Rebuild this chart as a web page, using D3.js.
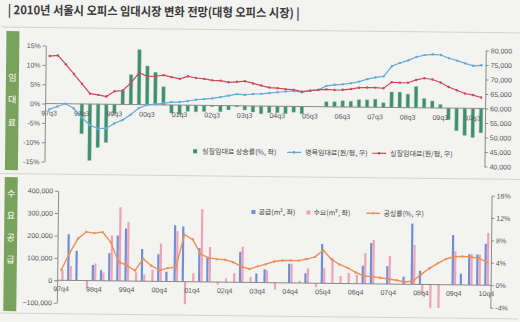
<!DOCTYPE html>
<html><head><meta charset="utf-8">
<script src="https://cdn.jsdelivr.net/npm/d3@7"></script>
<style>
html,body{margin:0;padding:0;background:#f3f3f1;}
svg{display:block;}
</style></head><body>
<svg id="c" width="520" height="322"></svg>
<script>
// ---------- DATA ----------
const titleText = "| 2010년 서울시 오피스 임대시장 변화 전망(대형 오피스 시장) |";

// Top panel: quarters 97q3 .. 10q4
const topCategories = d3.range(54).map(i => {
  const k = i + 2; return String((97 + Math.floor(k / 4)) % 100).padStart(2, "0") + "q" + (k % 4 + 1);
});
const topTickLabels = ["97q3","98q3","99q3","00q3","01q3","02q3","03q3","04q3","05q3","06q3","07q3","08q3","09q3","10q3"];
// 실질임대료 상승률 (%, left)
const realRentGrowth = [null,null,null,null,-7.7,-14.6,-11.2,-9.9,-2.3,3.6,7.7,14.2,10.0,8.4,4.7,-2.1,-2.4,-1.6,-1.7,-1.6,-0.3,-1.6,-1.1,-0.3,-1.1,-1.6,-2.0,-1.7,-1.7,-1.9,-1.5,-1.9,0,0,1.3,1.3,1.6,1.5,1.9,1.9,2.1,1.2,4.0,4.0,3.5,5.5,2.4,1.8,0.9,-3.0,-5.8,-7.0,-7.5,-6.3];
// 명목임대료 (원/평, right)
const nominalRent = [58000,59050,60000,58500,55350,52800,51600,51650,53400,54600,56450,58800,59900,60250,60550,61000,61050,61450,61900,62150,62450,62900,63450,64000,63800,64100,64200,64500,64800,65100,65300,64900,65500,65800,67200,67600,67800,68200,68800,69700,70300,70700,74200,75400,76300,77500,78200,78500,78300,77200,76400,75500,74700,74900];
// 실질임대료 (원/평, right)
const realRent = [76400,76650,73600,70300,66950,63600,63200,62650,64500,64800,67450,71000,69800,69850,70250,69600,69050,69950,69400,69150,68650,68600,68050,68250,68500,67750,67050,66400,66200,65900,65700,65100,65500,65800,66000,65800,65900,66200,66700,66800,66800,66600,68700,68600,68600,69600,70200,69800,68800,67300,66200,65100,64600,63800];
const topLeftTicks = [-15,-10,-5,0,5,10,15];
const topRightTicks = [40000,45000,50000,55000,60000,65000,70000,75000,80000];

// Bottom panel: quarters 97q4 .. 10q4
const botCategories = d3.range(53).map(i => {
  const k = i + 3; return String((97 + Math.floor(k / 4)) % 100).padStart(2, "0") + "q" + (k % 4 + 1);
});
const botTickLabels = ["97q4","98q4","99q4","00q4","01q4","02q4","03q4","04q4","05q4","06q4","07q4","08q4","09q4","10q4"];
// 공급 (m², left)
const supply = [0,206000,133000,0,70000,47000,124000,203000,235000,0,144000,0,121000,44000,252000,247000,0,151000,109000,0,0,0,137000,0,40000,60000,0,0,86000,0,44000,0,176000,0,0,0,0,80000,182000,0,80000,0,33000,271000,61000,0,0,0,222000,50000,137000,137000,185000];
// 수요 (m², left)
const demand = [45000,65000,0,-30000,77000,37000,203000,329000,265000,40000,30000,52000,169000,0,225000,-100000,38000,325000,156000,-12000,18000,40000,159000,25000,0,55000,-30000,0,86000,10000,66000,-18000,70000,115000,33000,48000,40000,137000,196000,0,125000,0,0,176000,-40000,-104000,-104000,0,150000,0,137000,137000,233000];
// 공실률 (%, right)
const vacancy = [1.9,4.9,7.5,8.7,8.5,8.7,6.9,3.4,2.8,1.9,4.0,2.8,2.0,2.4,2.6,8.4,7.6,5.0,4.3,4.1,4.0,3.6,2.8,2.4,2.9,3.3,3.8,4.0,4.0,4.0,4.3,4.7,5.9,4.3,3.4,2.8,2.0,1.4,1.3,1.1,0.9,0.7,0.4,0.6,1.8,2.9,3.8,4.6,5.0,5.1,5.0,4.8,4.1];
const botLeftTicks = [-100000,0,100000,200000,300000,400000];
const botRightTicks = [-4,0,4,8,12,16];

// ---------- DRAW ----------
const KR = "'Noto Sans CJK KR','Noto Sans',sans-serif";
const NUM = "'Liberation Sans Narrow','Liberation Sans',Arial,sans-serif";
const svg = d3.select("#c");
svg.append("rect").attr("width",520).attr("height",322).attr("fill","#f3f3f1");
const g = svg.append("g").attr("transform","rotate(0.65 260 161)");

g.append("text").attr("x",6).attr("y",17).attr("textLength",292).attr("lengthAdjust","spacingAndGlyphs")
  .attr("font-family",KR).attr("font-weight","bold").attr("font-size",12).attr("fill","#3a3a3a").text(titleText);
[30,176.5,316].forEach(y => g.append("line").attr("x1",0).attr("x2",520).attr("y1",y).attr("y2",y)
  .attr("stroke","#d2d2d0").attr("stroke-width",1));

function sideBar(y0,h,chars,ys){
  g.append("rect").attr("x",5).attr("y",y0).attr("width",13).attr("height",h).attr("fill","#79a35c");
  chars.forEach((ch,i)=> g.append("text").attr("x",11.5).attr("y",ys[i]).attr("text-anchor","middle")
    .attr("dominant-baseline","central").attr("font-family",KR).attr("font-size",9).attr("fill","#ffffff").text(ch));
}
sideBar(34,139,["임","대","료"],[80,102,125]);
sideBar(180,134,["수","요","공","급"],[196,218,240,262]);

function styleAxis(sel){
  sel.select(".domain").attr("stroke","#8a8a8a");
  sel.selectAll(".tick line").attr("stroke","#8a8a8a");
  sel.selectAll(".tick text").attr("fill","#555").attr("font-family",NUM).attr("font-size",7);
}

// ----- top panel -----
const xT = d3.scaleBand().domain(topCategories).range([44.5,484.5]);
const yTL = d3.scaleLinear().domain([-15,15]).range([164,48]);
const yTR = d3.scaleLinear().domain([40000,80000]).range([164,48]);
const bwT = xT.bandwidth();

g.append("g").selectAll("rect").data(topCategories.map((c,i)=>({c,v:realRentGrowth[i]})).filter(d=>d.v))
  .join("rect").attr("x",d=>xT(d.c)+bwT*0.3).attr("width",bwT*0.42)
  .attr("y",d=>Math.min(yTL(d.v),yTL(0))).attr("height",d=>Math.abs(yTL(d.v)-yTL(0)))
  .attr("fill","#3f8f6e").attr("stroke","#8dbfa6").attr("stroke-width",0.4);

g.append("line").attr("x1",44.5).attr("x2",484.5).attr("y1",yTL(0)).attr("y2",yTL(0)).attr("stroke","#8a8a8a");
const xTA = g.append("g").attr("transform",`translate(0,${yTL(0)})`)
  .call(d3.axisBottom(xT).tickValues(topTickLabels).tickSize(0).tickPadding(7));
xTA.select(".domain").remove(); styleAxis(xTA);

const lineT = (arr) => d3.line().x((d,i)=>xT(topCategories[i])+bwT/2).y(d=>yTR(d))(arr);
[[nominalRent,"#62acd8"],[realRent,"#cc4a57"]].forEach(([arr,col])=>{
  g.append("path").attr("d",lineT(arr)).attr("fill","none").attr("stroke",col).attr("stroke-width",1.2);
  g.append("g").selectAll("circle").data(arr).join("circle")
    .attr("cx",(d,i)=>xT(topCategories[i])+bwT/2).attr("cy",d=>yTR(d)).attr("r",1.2).attr("fill",col);
});

const yTLA = g.append("g").attr("transform","translate(44.5,0)")
  .call(d3.axisLeft(yTL).tickValues(topLeftTicks).tickFormat(d=>d+"%").tickSize(3).tickSizeOuter(0).tickPadding(2));
styleAxis(yTLA);
const yTRA = g.append("g").attr("transform","translate(484.5,0)")
  .call(d3.axisRight(yTR).tickValues(topRightTicks).tickFormat(d3.format(",")).tickSize(3).tickSizeOuter(0).tickPadding(2));
styleAxis(yTRA);

// top legend
const lgT = g.append("g").attr("font-family",KR).attr("font-size",7).attr("fill","#444");
lgT.append("rect").attr("x",193).attr("y",150).attr("width",4).attr("height",4).attr("fill","#3f8f6e");
lgT.append("text").attr("x",202).attr("y",154.5).text("실질임대료 상승률(%, 좌)");
[[287,305,"#62acd8","명목임대료(원/평, 우)"],[372,390,"#cc4a57","실질임대료(원/평, 우)"]].forEach(([x,tx,col,t])=>{
  lgT.append("line").attr("x1",x).attr("x2",x+14).attr("y1",152).attr("y2",152).attr("stroke",col).attr("stroke-width",1.2);
  lgT.append("circle").attr("cx",x+7).attr("cy",152).attr("r",1.3).attr("fill",col);
  lgT.append("text").attr("x",tx).attr("y",154.5).text(t);
});

// ----- bottom panel -----
const xB = d3.scaleBand().domain(botCategories).range([58.5,492]);
const yBL = d3.scaleLinear().domain([-100000,400000]).range([305,193]);
const yBR = d3.scaleLinear().domain([-4,16]).range([305,193]);
const bwB = xB.bandwidth();
const cB = (c) => xB(c) + bwB/2;

g.append("g").selectAll("rect").data(botCategories.map((c,i)=>({c,v:supply[i]})).filter(d=>d.v))
  .join("rect").attr("x",d=>cB(d.c)-2.3).attr("width",2.2)
  .attr("y",d=>Math.min(yBL(d.v),yBL(0))).attr("height",d=>Math.abs(yBL(d.v)-yBL(0))).attr("fill","#6f8fd6");
g.append("g").selectAll("rect").data(botCategories.map((c,i)=>({c,v:demand[i]})).filter(d=>d.v))
  .join("rect").attr("x",d=>cB(d.c)+0.1).attr("width",2.2)
  .attr("y",d=>Math.min(yBL(d.v),yBL(0))).attr("height",d=>Math.abs(yBL(d.v)-yBL(0))).attr("fill","#eea3b6");

g.append("line").attr("x1",58.5).attr("x2",492).attr("y1",yBL(0)).attr("y2",yBL(0)).attr("stroke","#8a8a8a");
const xBA = g.append("g").attr("transform",`translate(0,${yBL(0)})`)
  .call(d3.axisBottom(xB).tickValues(botTickLabels).tickSize(0).tickPadding(6));
xBA.select(".domain").remove(); styleAxis(xBA);

g.append("path").attr("d",d3.line().x((d,i)=>cB(botCategories[i])).y(d=>yBR(d))(vacancy))
  .attr("fill","none").attr("stroke","#ee9055").attr("stroke-width",1.4);
g.append("g").selectAll("circle").data(vacancy).join("circle")
  .attr("cx",(d,i)=>cB(botCategories[i])).attr("cy",d=>yBR(d)).attr("r",1.2).attr("fill","#ee9055");

const yBLA = g.append("g").attr("transform","translate(58.5,0)")
  .call(d3.axisLeft(yBL).tickValues(botLeftTicks).tickFormat(d3.format(",")).tickSize(3).tickSizeOuter(0).tickPadding(2));
styleAxis(yBLA);
const yBRA = g.append("g").attr("transform","translate(492,0)")
  .call(d3.axisRight(yBR).tickValues(botRightTicks).tickFormat(d=>d+"%").tickSize(3).tickSizeOuter(0).tickPadding(2));
styleAxis(yBRA);

// bottom legend
const lgB = g.append("g").attr("font-family",KR).attr("font-size",7).attr("fill","#444");
[[252,"#6f8fd6","공급(m², 좌)",259],[307,"#eea3b6","수요(m², 좌)",314]].forEach(([x,col,t,tx])=>{
  lgB.append("rect").attr("x",x).attr("y",210).attr("width",4).attr("height",4).attr("fill",col);
  lgB.append("text").attr("x",tx).attr("y",214.5).text(t);
});
lgB.append("line").attr("x1",367).attr("x2",381).attr("y1",212).attr("y2",212).attr("stroke","#ee9055").attr("stroke-width",1.4);
lgB.append("circle").attr("cx",374).attr("cy",212).attr("r",1.3).attr("fill","#ee9055");
lgB.append("text").attr("x",384).attr("y",214.5).text("공실률(%, 우)");
</script>
</body></html>
